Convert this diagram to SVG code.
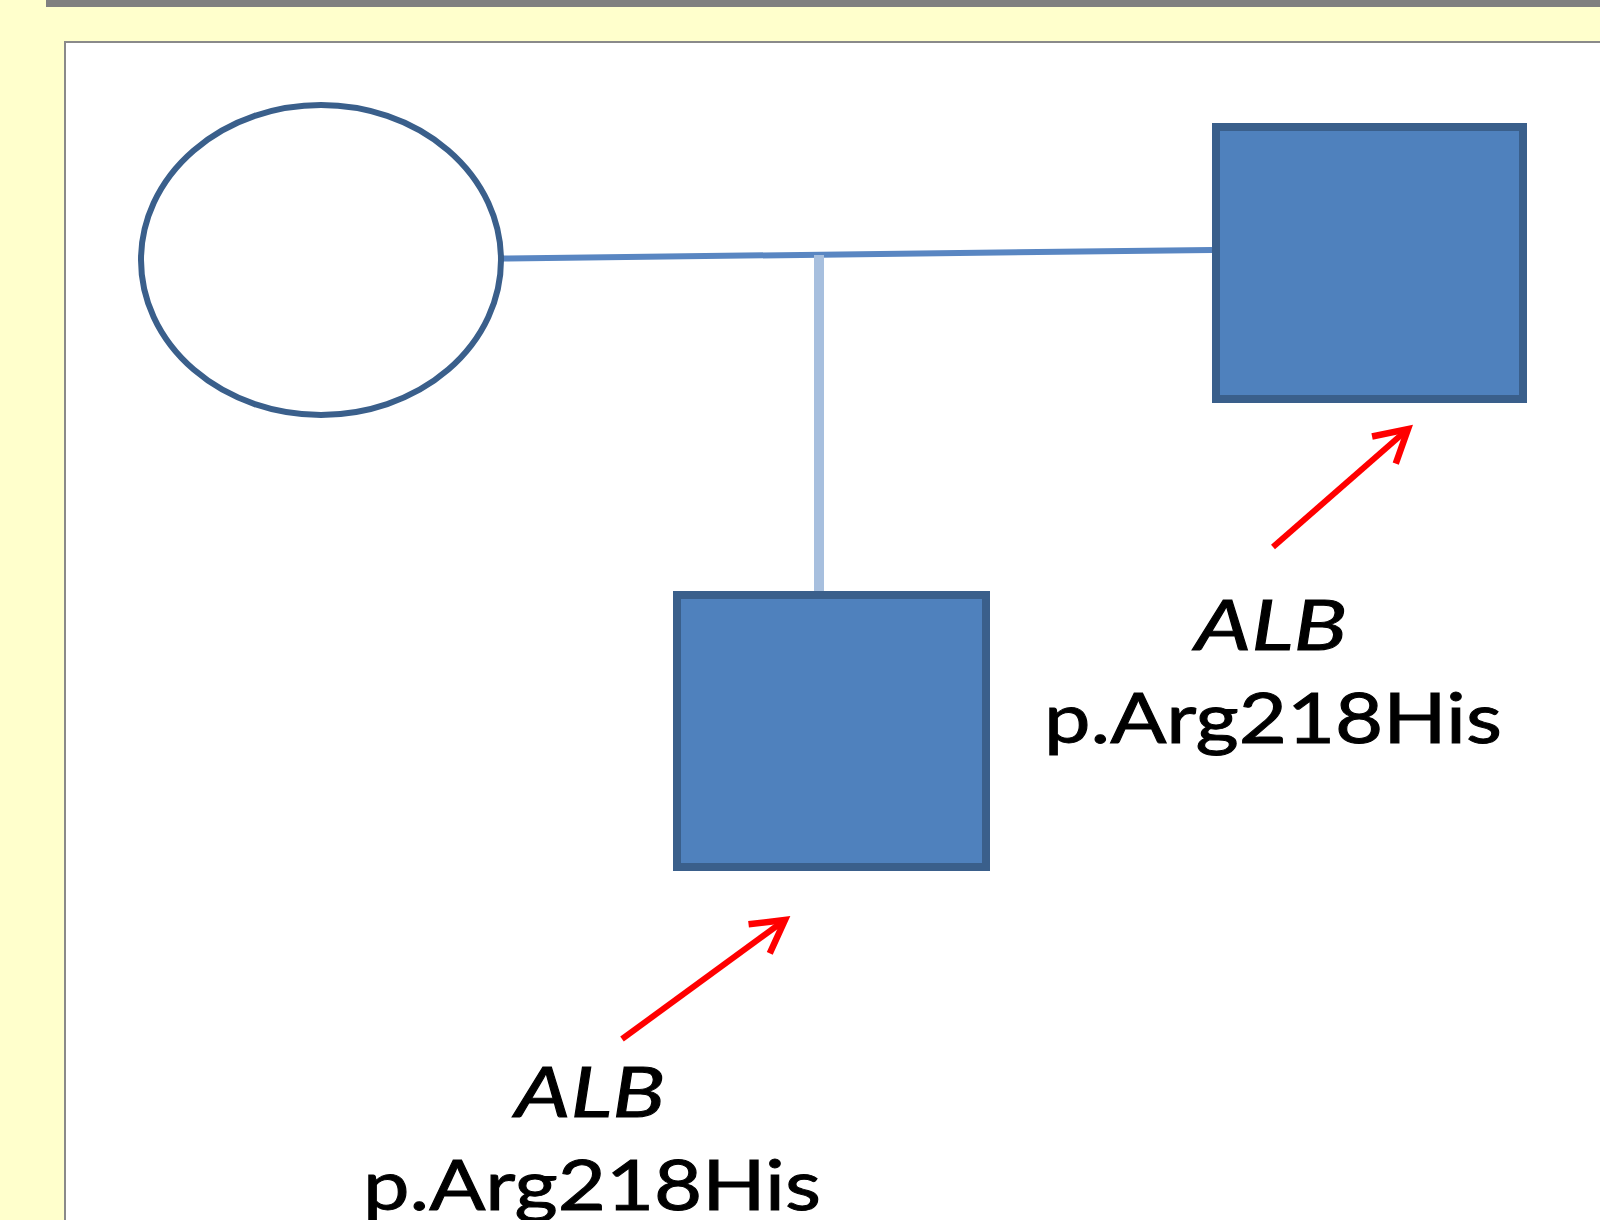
<svg xmlns="http://www.w3.org/2000/svg" width="1600" height="1220" viewBox="0 0 1600 1220">
  <style>
    .node-shape { fill: #4F81BD; stroke: #3A5F8B; stroke-width: 8; }
    .female { fill: #FFFFFF; stroke: #3A5F8B; stroke-width: 6; }
    .label { font-family: Lato, "Liberation Sans", sans-serif; font-size: 70px; fill: #000000; stroke: #000000; stroke-width: 1; text-anchor: middle; }
    .gene { font-style: italic; }
    .arrow { stroke: #FF0000; stroke-width: 6; fill: none; marker-end: url(#openArrow); }
  </style>
  <defs>
    <marker id="openArrow" markerUnits="userSpaceOnUse" markerWidth="60" markerHeight="60" viewBox="-40 -30 50 60" refX="0" refY="0" orient="auto">
      <path d="M -32 -18 L 0 0 L -32 18" fill="none" stroke="#FF0000" stroke-width="6.5" stroke-linejoin="miter"/>
    </marker>
  </defs>

  <!-- background frame -->
  <rect x="0" y="0" width="1600" height="1220" fill="#FFFFCC"/>
  <rect x="46" y="0" width="1554" height="7" fill="#808080"/>
  <rect x="65" y="42" width="1540" height="1190" fill="#FFFFFF" stroke="#8A8A8A" stroke-width="2"/>

  <!-- connectors -->
  <g id="connectors">
    <line x1="502" y1="258.5" x2="1212" y2="250" stroke="#5986C2" stroke-width="6"/>
    <line x1="819" y1="255" x2="819" y2="596" stroke="#A7BFDE" stroke-width="10"/>
    <line class="arrow" x1="1273" y1="547" x2="1408" y2="429"/>
    <line class="arrow" x1="622" y1="1039" x2="785" y2="920"/>
  </g>

  <!-- mother -->
  <g id="mother">
    <ellipse class="female" cx="321" cy="260" rx="180" ry="155"/>
  </g>

  <!-- father / affected male -->
  <g id="father">
    <rect class="node-shape" x="1216" y="127" width="307" height="272"/>
  </g>

  <!-- son / affected male -->
  <g id="son">
    <rect class="node-shape" x="677" y="595" width="309" height="272"/>
  </g>

  <!-- labels -->
  <g id="label-father">
    <text class="label gene" x="1271" y="650" textLength="152" lengthAdjust="spacingAndGlyphs">ALB</text>
    <text class="label" x="1273" y="743" textLength="458" lengthAdjust="spacingAndGlyphs">p.Arg218His</text>
  </g>
  <g id="label-son">
    <text class="label gene" x="590" y="1117" textLength="150" lengthAdjust="spacingAndGlyphs">ALB</text>
    <text class="label" x="592" y="1210" textLength="458" lengthAdjust="spacingAndGlyphs">p.Arg218His</text>
  </g>
</svg>
